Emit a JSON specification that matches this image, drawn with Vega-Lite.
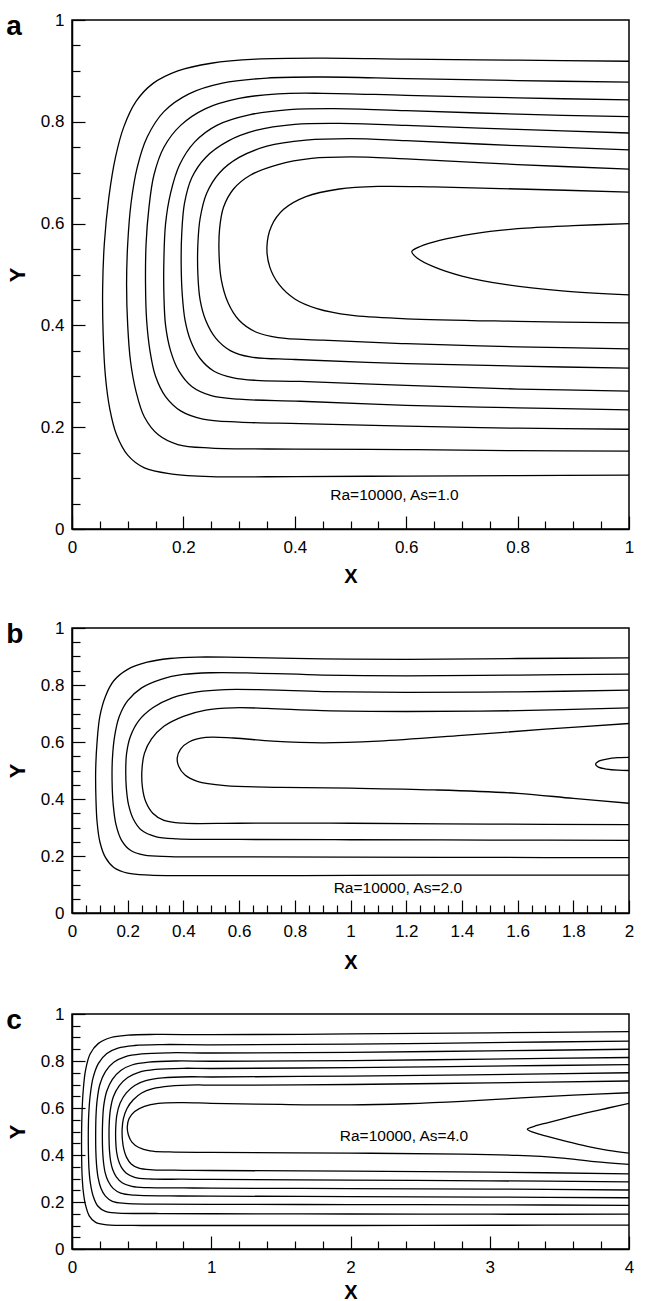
{
"$schema": "https://vega.github.io/schema/vega-lite/v6.json",
"background": "white",
"padding": {"left": 5, "top": 10, "right": 10, "bottom": 0},
"spacing": 31,
"config": {
  "view": {"stroke": "#000", "strokeWidth": 1.5},
  "font": "Liberation Sans",
  "axis": {"domainColor": "#000", "domainWidth": 1.5, "tickColor": "#000", "tickWidth": 1.2, "labelColor": "#000", "labelFont": "Liberation Sans", "labelFontSize": 17, "titleFont": "Liberation Sans", "titleFontSize": 20, "titleFontWeight": "bold", "titleColor": "#000", "grid": false, "labelOverlap": false, "labelFlush": false},
  "title": {"font": "Liberation Sans", "fontSize": 28, "fontWeight": "bold", "color": "#000", "anchor": "start", "frame": "bounds", "baseline": "alphabetic", "offset": -30}
},
"datasets": {
"a": [
{"c":1,"x":1,"y":0.919},{"c":1,"x":0.8,"y":0.921},{"c":1,"x":0.6,"y":0.923},{"c":1,"x":0.45,"y":0.925},{"c":1,"x":0.33,"y":0.923},{"c":1,"x":0.25,"y":0.915},{"c":1,"x":0.19,"y":0.9},{"c":1,"x":0.145,"y":0.875},{"c":1,"x":0.115,"y":0.84},{"c":1,"x":0.093,"y":0.79},{"c":1,"x":0.078,"y":0.73},{"c":1,"x":0.066,"y":0.65},{"c":1,"x":0.058,"y":0.56},{"c":1,"x":0.055,"y":0.47},{"c":1,"x":0.056,"y":0.38},{"c":1,"x":0.06,"y":0.3},{"c":1,"x":0.068,"y":0.235},{"c":1,"x":0.08,"y":0.185},{"c":1,"x":0.1,"y":0.145},{"c":1,"x":0.13,"y":0.12},{"c":1,"x":0.18,"y":0.108},{"c":1,"x":0.25,"y":0.103},{"c":1,"x":0.4,"y":0.103},{"c":1,"x":0.6,"y":0.104},{"c":1,"x":0.8,"y":0.105},{"c":1,"x":1,"y":0.106},
{"c":2,"x":1,"y":0.878},{"c":2,"x":0.8,"y":0.881},{"c":2,"x":0.6,"y":0.885},{"c":2,"x":0.45,"y":0.888},{"c":2,"x":0.35,"y":0.886},{"c":2,"x":0.27,"y":0.876},{"c":2,"x":0.21,"y":0.855},{"c":2,"x":0.165,"y":0.82},{"c":2,"x":0.135,"y":0.77},{"c":2,"x":0.117,"y":0.71},{"c":2,"x":0.106,"y":0.64},{"c":2,"x":0.1,"y":0.56},{"c":2,"x":0.098,"y":0.48},{"c":2,"x":0.1,"y":0.4},{"c":2,"x":0.105,"y":0.33},{"c":2,"x":0.115,"y":0.27},{"c":2,"x":0.13,"y":0.22},{"c":2,"x":0.155,"y":0.185},{"c":2,"x":0.19,"y":0.166},{"c":2,"x":0.25,"y":0.159},{"c":2,"x":0.4,"y":0.157},{"c":2,"x":0.6,"y":0.156},{"c":2,"x":0.8,"y":0.154},{"c":2,"x":1,"y":0.153},
{"c":3,"x":1,"y":0.843},{"c":3,"x":0.8,"y":0.847},{"c":3,"x":0.6,"y":0.852},{"c":3,"x":0.45,"y":0.856},{"c":3,"x":0.37,"y":0.855},{"c":3,"x":0.3,"y":0.846},{"c":3,"x":0.24,"y":0.826},{"c":3,"x":0.195,"y":0.793},{"c":3,"x":0.165,"y":0.75},{"c":3,"x":0.147,"y":0.695},{"c":3,"x":0.138,"y":0.63},{"c":3,"x":0.133,"y":0.56},{"c":3,"x":0.132,"y":0.48},{"c":3,"x":0.134,"y":0.41},{"c":3,"x":0.14,"y":0.35},{"c":3,"x":0.15,"y":0.3},{"c":3,"x":0.168,"y":0.26},{"c":3,"x":0.195,"y":0.232},{"c":3,"x":0.235,"y":0.216},{"c":3,"x":0.3,"y":0.21},{"c":3,"x":0.41,"y":0.207},{"c":3,"x":0.6,"y":0.202},{"c":3,"x":0.8,"y":0.198},{"c":3,"x":1,"y":0.196},
{"c":4,"x":1,"y":0.81},{"c":4,"x":0.8,"y":0.815},{"c":4,"x":0.6,"y":0.822},{"c":4,"x":0.47,"y":0.826},{"c":4,"x":0.39,"y":0.824},{"c":4,"x":0.32,"y":0.814},{"c":4,"x":0.26,"y":0.793},{"c":4,"x":0.22,"y":0.76},{"c":4,"x":0.193,"y":0.715},{"c":4,"x":0.177,"y":0.66},{"c":4,"x":0.168,"y":0.6},{"c":4,"x":0.165,"y":0.53},{"c":4,"x":0.165,"y":0.46},{"c":4,"x":0.168,"y":0.4},{"c":4,"x":0.177,"y":0.35},{"c":4,"x":0.192,"y":0.31},{"c":4,"x":0.215,"y":0.28},{"c":4,"x":0.25,"y":0.262},{"c":4,"x":0.3,"y":0.255},{"c":4,"x":0.41,"y":0.251},{"c":4,"x":0.6,"y":0.243},{"c":4,"x":0.8,"y":0.238},{"c":4,"x":1,"y":0.234},
{"c":5,"x":1,"y":0.778},{"c":5,"x":0.8,"y":0.785},{"c":5,"x":0.6,"y":0.793},{"c":5,"x":0.48,"y":0.797},{"c":5,"x":0.4,"y":0.795},{"c":5,"x":0.33,"y":0.783},{"c":5,"x":0.28,"y":0.762},{"c":5,"x":0.24,"y":0.73},{"c":5,"x":0.215,"y":0.69},{"c":5,"x":0.202,"y":0.64},{"c":5,"x":0.197,"y":0.58},{"c":5,"x":0.196,"y":0.52},{"c":5,"x":0.198,"y":0.46},{"c":5,"x":0.203,"y":0.41},{"c":5,"x":0.213,"y":0.37},{"c":5,"x":0.23,"y":0.335},{"c":5,"x":0.255,"y":0.31},{"c":5,"x":0.29,"y":0.297},{"c":5,"x":0.33,"y":0.292},{"c":5,"x":0.41,"y":0.29},{"c":5,"x":0.6,"y":0.282},{"c":5,"x":0.8,"y":0.275},{"c":5,"x":1,"y":0.271},
{"c":6,"x":1,"y":0.745},{"c":6,"x":0.8,"y":0.753},{"c":6,"x":0.6,"y":0.763},{"c":6,"x":0.5,"y":0.767},{"c":6,"x":0.42,"y":0.764},{"c":6,"x":0.35,"y":0.752},{"c":6,"x":0.3,"y":0.73},{"c":6,"x":0.265,"y":0.7},{"c":6,"x":0.242,"y":0.66},{"c":6,"x":0.23,"y":0.61},{"c":6,"x":0.226,"y":0.56},{"c":6,"x":0.226,"y":0.5},{"c":6,"x":0.23,"y":0.45},{"c":6,"x":0.24,"y":0.41},{"c":6,"x":0.258,"y":0.375},{"c":6,"x":0.285,"y":0.35},{"c":6,"x":0.32,"y":0.338},{"c":6,"x":0.4,"y":0.333},{"c":6,"x":0.6,"y":0.325},{"c":6,"x":0.8,"y":0.32},{"c":6,"x":1,"y":0.316},
{"c":7,"x":1,"y":0.707},{"c":7,"x":0.8,"y":0.716},{"c":7,"x":0.6,"y":0.727},{"c":7,"x":0.5,"y":0.731},{"c":7,"x":0.43,"y":0.728},{"c":7,"x":0.37,"y":0.716},{"c":7,"x":0.32,"y":0.695},{"c":7,"x":0.29,"y":0.668},{"c":7,"x":0.272,"y":0.632},{"c":7,"x":0.265,"y":0.59},{"c":7,"x":0.264,"y":0.54},{"c":7,"x":0.268,"y":0.49},{"c":7,"x":0.28,"y":0.445},{"c":7,"x":0.3,"y":0.41},{"c":7,"x":0.33,"y":0.387},{"c":7,"x":0.37,"y":0.376},{"c":7,"x":0.45,"y":0.371},{"c":7,"x":0.6,"y":0.364},{"c":7,"x":0.8,"y":0.358},{"c":7,"x":1,"y":0.354},
{"c":8,"x":1,"y":0.662},{"c":8,"x":0.8,"y":0.668},{"c":8,"x":0.65,"y":0.672},{"c":8,"x":0.55,"y":0.673},{"c":8,"x":0.48,"y":0.668},{"c":8,"x":0.42,"y":0.653},{"c":8,"x":0.38,"y":0.628},{"c":8,"x":0.358,"y":0.595},{"c":8,"x":0.35,"y":0.555},{"c":8,"x":0.355,"y":0.515},{"c":8,"x":0.372,"y":0.48},{"c":8,"x":0.4,"y":0.452},{"c":8,"x":0.44,"y":0.433},{"c":8,"x":0.5,"y":0.42},{"c":8,"x":0.6,"y":0.413},{"c":8,"x":0.8,"y":0.408},{"c":8,"x":1,"y":0.405},
{"c":9,"x":1,"y":0.6},{"c":9,"x":0.9,"y":0.596},{"c":9,"x":0.8,"y":0.59},{"c":9,"x":0.72,"y":0.58},{"c":9,"x":0.66,"y":0.567},{"c":9,"x":0.625,"y":0.555},{"c":9,"x":0.61,"y":0.545},{"c":9,"x":0.62,"y":0.532},{"c":9,"x":0.65,"y":0.515},{"c":9,"x":0.7,"y":0.497},{"c":9,"x":0.78,"y":0.48},{"c":9,"x":0.88,"y":0.468},{"c":9,"x":1,"y":0.46}
],
"b": [
{"c":1,"x":2,"y":0.895},{"c":1,"x":1.6,"y":0.893},{"c":1,"x":1.2,"y":0.89},{"c":1,"x":0.9,"y":0.892},{"c":1,"x":0.6,"y":0.897},{"c":1,"x":0.45,"y":0.898},{"c":1,"x":0.35,"y":0.893},{"c":1,"x":0.27,"y":0.88},{"c":1,"x":0.2,"y":0.855},{"c":1,"x":0.15,"y":0.815},{"c":1,"x":0.12,"y":0.76},{"c":1,"x":0.1,"y":0.69},{"c":1,"x":0.09,"y":0.6},{"c":1,"x":0.085,"y":0.5},{"c":1,"x":0.086,"y":0.4},{"c":1,"x":0.09,"y":0.32},{"c":1,"x":0.1,"y":0.25},{"c":1,"x":0.12,"y":0.195},{"c":1,"x":0.15,"y":0.16},{"c":1,"x":0.2,"y":0.14},{"c":1,"x":0.28,"y":0.133},{"c":1,"x":0.5,"y":0.131},{"c":1,"x":1,"y":0.132},{"c":1,"x":1.5,"y":0.133},{"c":1,"x":2,"y":0.133},
{"c":2,"x":2,"y":0.838},{"c":2,"x":1.6,"y":0.835},{"c":2,"x":1.2,"y":0.832},{"c":2,"x":0.9,"y":0.835},{"c":2,"x":0.65,"y":0.842},{"c":2,"x":0.5,"y":0.843},{"c":2,"x":0.4,"y":0.837},{"c":2,"x":0.32,"y":0.82},{"c":2,"x":0.25,"y":0.79},{"c":2,"x":0.2,"y":0.745},{"c":2,"x":0.17,"y":0.69},{"c":2,"x":0.153,"y":0.62},{"c":2,"x":0.145,"y":0.54},{"c":2,"x":0.144,"y":0.46},{"c":2,"x":0.148,"y":0.38},{"c":2,"x":0.158,"y":0.31},{"c":2,"x":0.178,"y":0.255},{"c":2,"x":0.21,"y":0.22},{"c":2,"x":0.26,"y":0.203},{"c":2,"x":0.35,"y":0.198},{"c":2,"x":0.6,"y":0.197},{"c":2,"x":1,"y":0.196},{"c":2,"x":1.5,"y":0.195},{"c":2,"x":2,"y":0.194},
{"c":3,"x":2,"y":0.782},{"c":3,"x":1.6,"y":0.776},{"c":3,"x":1.2,"y":0.774},{"c":3,"x":0.9,"y":0.777},{"c":3,"x":0.7,"y":0.783},{"c":3,"x":0.55,"y":0.784},{"c":3,"x":0.45,"y":0.776},{"c":3,"x":0.36,"y":0.755},{"c":3,"x":0.29,"y":0.72},{"c":3,"x":0.24,"y":0.675},{"c":3,"x":0.21,"y":0.62},{"c":3,"x":0.196,"y":0.56},{"c":3,"x":0.193,"y":0.5},{"c":3,"x":0.195,"y":0.44},{"c":3,"x":0.203,"y":0.38},{"c":3,"x":0.22,"y":0.33},{"c":3,"x":0.25,"y":0.29},{"c":3,"x":0.3,"y":0.268},{"c":3,"x":0.38,"y":0.26},{"c":3,"x":0.6,"y":0.258},{"c":3,"x":1,"y":0.257},{"c":3,"x":1.5,"y":0.256},{"c":3,"x":2,"y":0.255},
{"c":4,"x":2,"y":0.72},{"c":4,"x":1.6,"y":0.71},{"c":4,"x":1.2,"y":0.707},{"c":4,"x":0.9,"y":0.71},{"c":4,"x":0.7,"y":0.718},{"c":4,"x":0.58,"y":0.72},{"c":4,"x":0.48,"y":0.712},{"c":4,"x":0.4,"y":0.69},{"c":4,"x":0.33,"y":0.655},{"c":4,"x":0.285,"y":0.61},{"c":4,"x":0.26,"y":0.56},{"c":4,"x":0.251,"y":0.5},{"c":4,"x":0.253,"y":0.44},{"c":4,"x":0.265,"y":0.39},{"c":4,"x":0.29,"y":0.35},{"c":4,"x":0.33,"y":0.325},{"c":4,"x":0.4,"y":0.315},{"c":4,"x":0.6,"y":0.315},{"c":4,"x":1,"y":0.315},{"c":4,"x":1.5,"y":0.312},{"c":4,"x":2,"y":0.31},
{"c":5,"x":2,"y":0.665},{"c":5,"x":1.7,"y":0.645},{"c":5,"x":1.4,"y":0.623},{"c":5,"x":1.1,"y":0.603},{"c":5,"x":0.9,"y":0.597},{"c":5,"x":0.72,"y":0.603},{"c":5,"x":0.58,"y":0.614},{"c":5,"x":0.48,"y":0.616},{"c":5,"x":0.42,"y":0.6},{"c":5,"x":0.39,"y":0.575},{"c":5,"x":0.378,"y":0.545},{"c":5,"x":0.383,"y":0.515},{"c":5,"x":0.405,"y":0.485},{"c":5,"x":0.45,"y":0.462},{"c":5,"x":0.55,"y":0.447},{"c":5,"x":0.75,"y":0.441},{"c":5,"x":1,"y":0.438},{"c":5,"x":1.3,"y":0.432},{"c":5,"x":1.6,"y":0.42},{"c":5,"x":1.8,"y":0.402},{"c":5,"x":2,"y":0.385},
{"c":6,"x":2,"y":0.546},{"c":6,"x":1.96,"y":0.545},{"c":6,"x":1.92,"y":0.54},{"c":6,"x":1.89,"y":0.532},{"c":6,"x":1.88,"y":0.522},{"c":6,"x":1.89,"y":0.512},{"c":6,"x":1.92,"y":0.505},{"c":6,"x":1.96,"y":0.501},{"c":6,"x":2,"y":0.5}
],
"c": [
{"c":1,"x":4,"y":0.925},{"c":1,"x":3,"y":0.92},{"c":1,"x":2,"y":0.915},{"c":1,"x":1,"y":0.912},{"c":1,"x":0.6,"y":0.913},{"c":1,"x":0.4,"y":0.91},{"c":1,"x":0.28,"y":0.9},{"c":1,"x":0.19,"y":0.875},{"c":1,"x":0.13,"y":0.83},{"c":1,"x":0.097,"y":0.76},{"c":1,"x":0.08,"y":0.67},{"c":1,"x":0.072,"y":0.58},{"c":1,"x":0.069,"y":0.5},{"c":1,"x":0.069,"y":0.4},{"c":1,"x":0.072,"y":0.32},{"c":1,"x":0.08,"y":0.25},{"c":1,"x":0.096,"y":0.19},{"c":1,"x":0.125,"y":0.14},{"c":1,"x":0.17,"y":0.113},{"c":1,"x":0.25,"y":0.103},{"c":1,"x":0.5,"y":0.1},{"c":1,"x":1,"y":0.1},{"c":1,"x":2,"y":0.1},{"c":1,"x":3,"y":0.101},{"c":1,"x":4,"y":0.102},
{"c":2,"x":4,"y":0.885},{"c":2,"x":3,"y":0.878},{"c":2,"x":2,"y":0.872},{"c":2,"x":1,"y":0.869},{"c":2,"x":0.65,"y":0.87},{"c":2,"x":0.45,"y":0.866},{"c":2,"x":0.33,"y":0.855},{"c":2,"x":0.25,"y":0.832},{"c":2,"x":0.19,"y":0.79},{"c":2,"x":0.152,"y":0.73},{"c":2,"x":0.13,"y":0.65},{"c":2,"x":0.12,"y":0.57},{"c":2,"x":0.117,"y":0.49},{"c":2,"x":0.118,"y":0.41},{"c":2,"x":0.122,"y":0.34},{"c":2,"x":0.132,"y":0.28},{"c":2,"x":0.152,"y":0.225},{"c":2,"x":0.185,"y":0.183},{"c":2,"x":0.24,"y":0.16},{"c":2,"x":0.33,"y":0.153},{"c":2,"x":0.6,"y":0.151},{"c":2,"x":1,"y":0.15},{"c":2,"x":2,"y":0.149},{"c":2,"x":3,"y":0.148},{"c":2,"x":4,"y":0.148},
{"c":3,"x":4,"y":0.85},{"c":3,"x":3,"y":0.843},{"c":3,"x":2,"y":0.837},{"c":3,"x":1,"y":0.834},{"c":3,"x":0.7,"y":0.835},{"c":3,"x":0.5,"y":0.83},{"c":3,"x":0.38,"y":0.818},{"c":3,"x":0.3,"y":0.795},{"c":3,"x":0.24,"y":0.755},{"c":3,"x":0.2,"y":0.7},{"c":3,"x":0.18,"y":0.63},{"c":3,"x":0.172,"y":0.56},{"c":3,"x":0.17,"y":0.49},{"c":3,"x":0.171,"y":0.42},{"c":3,"x":0.176,"y":0.36},{"c":3,"x":0.187,"y":0.305},{"c":3,"x":0.207,"y":0.26},{"c":3,"x":0.24,"y":0.225},{"c":3,"x":0.29,"y":0.203},{"c":3,"x":0.38,"y":0.194},{"c":3,"x":0.6,"y":0.191},{"c":3,"x":1,"y":0.19},{"c":3,"x":2,"y":0.189},{"c":3,"x":3,"y":0.188},{"c":3,"x":4,"y":0.186},
{"c":4,"x":4,"y":0.815},{"c":4,"x":3,"y":0.808},{"c":4,"x":2,"y":0.802},{"c":4,"x":1,"y":0.799},{"c":4,"x":0.75,"y":0.8},{"c":4,"x":0.55,"y":0.795},{"c":4,"x":0.43,"y":0.783},{"c":4,"x":0.35,"y":0.76},{"c":4,"x":0.29,"y":0.722},{"c":4,"x":0.25,"y":0.672},{"c":4,"x":0.228,"y":0.61},{"c":4,"x":0.22,"y":0.545},{"c":4,"x":0.218,"y":0.48},{"c":4,"x":0.22,"y":0.42},{"c":4,"x":0.226,"y":0.37},{"c":4,"x":0.238,"y":0.325},{"c":4,"x":0.26,"y":0.288},{"c":4,"x":0.295,"y":0.258},{"c":4,"x":0.35,"y":0.238},{"c":4,"x":0.45,"y":0.229},{"c":4,"x":0.7,"y":0.226},{"c":4,"x":1,"y":0.225},{"c":4,"x":2,"y":0.223},{"c":4,"x":3,"y":0.221},{"c":4,"x":4,"y":0.218},
{"c":5,"x":4,"y":0.785},{"c":5,"x":3,"y":0.778},{"c":5,"x":2,"y":0.772},{"c":5,"x":1,"y":0.768},{"c":5,"x":0.8,"y":0.769},{"c":5,"x":0.6,"y":0.764},{"c":5,"x":0.48,"y":0.752},{"c":5,"x":0.4,"y":0.73},{"c":5,"x":0.34,"y":0.695},{"c":5,"x":0.297,"y":0.648},{"c":5,"x":0.275,"y":0.59},{"c":5,"x":0.267,"y":0.53},{"c":5,"x":0.266,"y":0.47},{"c":5,"x":0.269,"y":0.42},{"c":5,"x":0.277,"y":0.375},{"c":5,"x":0.292,"y":0.338},{"c":5,"x":0.318,"y":0.307},{"c":5,"x":0.36,"y":0.282},{"c":5,"x":0.43,"y":0.266},{"c":5,"x":0.55,"y":0.261},{"c":5,"x":0.8,"y":0.26},{"c":5,"x":1,"y":0.259},{"c":5,"x":2,"y":0.257},{"c":5,"x":3,"y":0.255},{"c":5,"x":4,"y":0.251},
{"c":6,"x":4,"y":0.75},{"c":6,"x":3,"y":0.742},{"c":6,"x":2,"y":0.736},{"c":6,"x":1,"y":0.732},{"c":6,"x":0.85,"y":0.733},{"c":6,"x":0.65,"y":0.728},{"c":6,"x":0.53,"y":0.716},{"c":6,"x":0.45,"y":0.696},{"c":6,"x":0.39,"y":0.664},{"c":6,"x":0.345,"y":0.62},{"c":6,"x":0.322,"y":0.57},{"c":6,"x":0.314,"y":0.515},{"c":6,"x":0.314,"y":0.46},{"c":6,"x":0.32,"y":0.415},{"c":6,"x":0.333,"y":0.378},{"c":6,"x":0.355,"y":0.347},{"c":6,"x":0.39,"y":0.322},{"c":6,"x":0.45,"y":0.305},{"c":6,"x":0.55,"y":0.298},{"c":6,"x":0.8,"y":0.297},{"c":6,"x":1,"y":0.296},{"c":6,"x":2,"y":0.293},{"c":6,"x":3,"y":0.29},{"c":6,"x":4,"y":0.286},
{"c":7,"x":4,"y":0.715},{"c":7,"x":3,"y":0.707},{"c":7,"x":2,"y":0.7},{"c":7,"x":1,"y":0.697},{"c":7,"x":0.9,"y":0.698},{"c":7,"x":0.7,"y":0.693},{"c":7,"x":0.58,"y":0.682},{"c":7,"x":0.5,"y":0.664},{"c":7,"x":0.44,"y":0.635},{"c":7,"x":0.395,"y":0.598},{"c":7,"x":0.369,"y":0.555},{"c":7,"x":0.36,"y":0.51},{"c":7,"x":0.362,"y":0.465},{"c":7,"x":0.372,"y":0.425},{"c":7,"x":0.392,"y":0.39},{"c":7,"x":0.425,"y":0.362},{"c":7,"x":0.48,"y":0.344},{"c":7,"x":0.58,"y":0.337},{"c":7,"x":0.8,"y":0.335},{"c":7,"x":1,"y":0.334},{"c":7,"x":2,"y":0.331},{"c":7,"x":3,"y":0.327},{"c":7,"x":4,"y":0.32},
{"c":8,"x":4,"y":0.665},{"c":8,"x":3.6,"y":0.655},{"c":8,"x":3.2,"y":0.642},{"c":8,"x":2.8,"y":0.628},{"c":8,"x":2.4,"y":0.618},{"c":8,"x":2,"y":0.613},{"c":8,"x":1.5,"y":0.615},{"c":8,"x":1,"y":0.62},{"c":8,"x":0.8,"y":0.623},{"c":8,"x":0.62,"y":0.62},{"c":8,"x":0.52,"y":0.607},{"c":8,"x":0.45,"y":0.585},{"c":8,"x":0.41,"y":0.555},{"c":8,"x":0.397,"y":0.52},{"c":8,"x":0.405,"y":0.485},{"c":8,"x":0.43,"y":0.455},{"c":8,"x":0.48,"y":0.432},{"c":8,"x":0.56,"y":0.418},{"c":8,"x":0.7,"y":0.413},{"c":8,"x":1,"y":0.411},{"c":8,"x":2,"y":0.408},{"c":8,"x":2.8,"y":0.404},{"c":8,"x":3.2,"y":0.398},{"c":8,"x":3.5,"y":0.388},{"c":8,"x":3.75,"y":0.372},{"c":8,"x":4,"y":0.36},
{"c":9,"x":4,"y":0.62},{"c":9,"x":3.85,"y":0.6},{"c":9,"x":3.7,"y":0.58},{"c":9,"x":3.55,"y":0.558},{"c":9,"x":3.42,"y":0.538},{"c":9,"x":3.32,"y":0.522},{"c":9,"x":3.27,"y":0.51},{"c":9,"x":3.32,"y":0.495},{"c":9,"x":3.42,"y":0.478},{"c":9,"x":3.55,"y":0.458},{"c":9,"x":3.7,"y":0.437},{"c":9,"x":3.85,"y":0.42},{"c":9,"x":4,"y":0.408}
]
},
"vconcat": [
{
  "width": 557, "height": 509,
  "title": "a",
  "layer": [
    {"data": {"name": "a"},
     "mark": {"type": "line", "interpolate": "catmull-rom", "color": "#000", "strokeWidth": 1.3, "clip": true},
     "encoding": {
       "x": {"field": "x", "type": "quantitative", "scale": {"domain": [0, 1], "nice": false}, "axis": {"title": "X", "values": [0, 0.2, 0.4, 0.6, 0.8, 1], "format": "~g", "tickSize": -13, "labelPadding": 23, "titlePadding": 11}},
       "y": {"field": "y", "type": "quantitative", "scale": {"domain": [0, 1], "nice": false}, "axis": {"title": "Y", "titleFontSize": 22, "values": [0, 0.2, 0.4, 0.6, 0.8, 1], "format": "~g", "tickSize": -13, "labelPadding": 21, "titlePadding": 11}},
       "detail": {"field": "c", "type": "nominal"},
       "order": {"value": null}
     }},
    {"data": {"values": [{"x": 0.579, "y": 0.067, "t": "Ra=10000, As=1.0"}]},
     "mark": {"type": "text", "font": "Liberation Sans", "fontSize": 15.5, "color": "#000"},
     "encoding": {
       "x": {"field": "x", "type": "quantitative", "axis": {"orient": "bottom", "title": null, "labels": false, "domain": false, "tickSize": -8, "values": [0.05, 0.1, 0.15, 0.25, 0.3, 0.35, 0.45, 0.5, 0.55, 0.65, 0.7, 0.75, 0.85, 0.9, 0.95]}},
       "y": {"field": "y", "type": "quantitative", "axis": {"orient": "left", "title": null, "labels": false, "domain": false, "tickSize": -8, "values": [0.05, 0.1, 0.15, 0.25, 0.3, 0.35, 0.45, 0.5, 0.55, 0.65, 0.7, 0.75, 0.85, 0.9, 0.95]}},
       "text": {"field": "t"}
     }}
  ],
  "resolve": {"axis": {"x": "independent", "y": "independent"}}
},
{
  "width": 557, "height": 285,
  "title": "b",
  "layer": [
    {"data": {"name": "b"},
     "mark": {"type": "line", "interpolate": "catmull-rom", "color": "#000", "strokeWidth": 1.3, "clip": true},
     "encoding": {
       "x": {"field": "x", "type": "quantitative", "scale": {"domain": [0, 2], "nice": false}, "axis": {"title": "X", "values": [0, 0.2, 0.4, 0.6, 0.8, 1, 1.2, 1.4, 1.6, 1.8, 2], "format": "~g", "tickSize": -13, "labelPadding": 23, "titlePadding": 13}},
       "y": {"field": "y", "type": "quantitative", "scale": {"domain": [0, 1], "nice": false}, "axis": {"title": "Y", "titleFontSize": 22, "values": [0, 0.2, 0.4, 0.6, 0.8, 1], "format": "~g", "tickSize": -13, "labelPadding": 21, "titlePadding": 11}},
       "detail": {"field": "c", "type": "nominal"},
       "order": {"value": null}
     }},
    {"data": {"values": [{"x": 1.17, "y": 0.089, "t": "Ra=10000, As=2.0"}]},
     "mark": {"type": "text", "font": "Liberation Sans", "fontSize": 15.5, "color": "#000"},
     "encoding": {
       "x": {"field": "x", "type": "quantitative", "axis": {"orient": "bottom", "title": null, "labels": false, "domain": false, "tickSize": -8, "values": [0.05, 0.1, 0.15, 0.25, 0.3, 0.35, 0.45, 0.5, 0.55, 0.65, 0.7, 0.75, 0.85, 0.9, 0.95, 1.05, 1.1, 1.15, 1.25, 1.3, 1.35, 1.45, 1.5, 1.55, 1.65, 1.7, 1.75, 1.85, 1.9, 1.95]}},
       "y": {"field": "y", "type": "quantitative", "axis": {"orient": "left", "title": null, "labels": false, "domain": false, "tickSize": -8, "values": [0.05, 0.1, 0.15, 0.25, 0.3, 0.35, 0.45, 0.5, 0.55, 0.65, 0.7, 0.75, 0.85, 0.9, 0.95]}},
       "text": {"field": "t"}
     }}
  ],
  "resolve": {"axis": {"x": "independent", "y": "independent"}}
},
{
  "width": 557, "height": 235,
  "title": "c",
  "layer": [
    {"data": {"name": "c"},
     "mark": {"type": "line", "interpolate": "catmull-rom", "color": "#000", "strokeWidth": 1.3, "clip": true},
     "encoding": {
       "x": {"field": "x", "type": "quantitative", "scale": {"domain": [0, 4], "nice": false}, "axis": {"title": "X", "values": [0, 1, 2, 3, 4], "format": "~g", "tickSize": -13, "labelPadding": 23, "titlePadding": 7}},
       "y": {"field": "y", "type": "quantitative", "scale": {"domain": [0, 1], "nice": false}, "axis": {"title": "Y", "titleFontSize": 22, "values": [0, 0.2, 0.4, 0.6, 0.8, 1], "format": "~g", "tickSize": -13, "labelPadding": 21, "titlePadding": 11}},
       "detail": {"field": "c", "type": "nominal"},
       "order": {"value": null}
     }},
    {"data": {"values": [{"x": 2.384, "y": 0.481, "t": "Ra=10000, As=4.0"}]},
     "mark": {"type": "text", "font": "Liberation Sans", "fontSize": 15.5, "color": "#000"},
     "encoding": {
       "x": {"field": "x", "type": "quantitative", "axis": {"orient": "bottom", "title": null, "labels": false, "domain": false, "tickSize": -8, "values": [0.2, 0.4, 0.6, 0.8, 1.2, 1.4, 1.6, 1.8, 2.2, 2.4, 2.6, 2.8, 3.2, 3.4, 3.6, 3.8]}},
       "y": {"field": "y", "type": "quantitative", "axis": {"orient": "left", "title": null, "labels": false, "domain": false, "tickSize": -8, "values": [0.05, 0.1, 0.15, 0.25, 0.3, 0.35, 0.45, 0.5, 0.55, 0.65, 0.7, 0.75, 0.85, 0.9, 0.95]}},
       "text": {"field": "t"}
     }}
  ],
  "resolve": {"axis": {"x": "independent", "y": "independent"}}
}
]
}
